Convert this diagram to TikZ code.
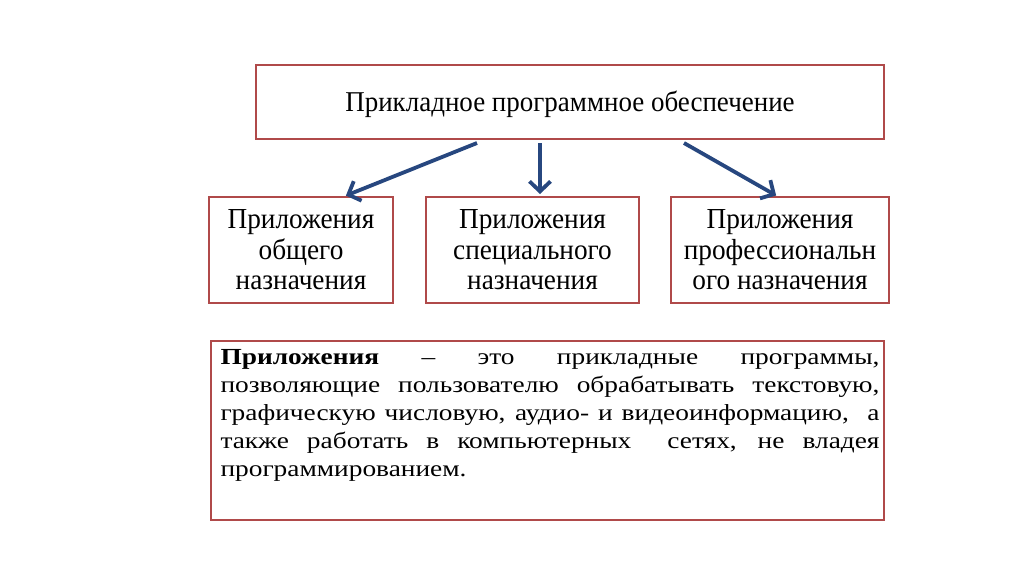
\documentclass[tikz,border=0pt]{standalone}
\usepackage{fontspec}
\setmainfont{Liberation Serif}
\newfontfamily\narrowserif[FakeStretch=0.94]{Liberation Serif}
\newfontfamily\wideserif[FakeStretch=1.19]{Liberation Serif}
\usetikzlibrary{arrows.meta}
\definecolor{boxred}{HTML}{B04A4A}
\definecolor{arrowblue}{HTML}{27477F}
\tikzset{
  frame/.style={draw=boxred, line width=1.4pt, rectangle, inner sep=0pt},
  sub/.style={frame, align=center, font=\narrowserif\fontsize{29}{30.5}\selectfont},
  link/.style={draw=arrowblue, line width=3.8pt, -{Straight Barb[length=10pt, width=21pt, line width=3.8pt]}, shorten >=1pt}
}
\begin{document}
\begin{tikzpicture}[x=1pt,y=-1pt]
\useasboundingbox[fill=white] (0,0) rectangle (1024,574);
\node[frame, minimum width=628pt, minimum height=74pt] (top) at (570,102) {};
\node[inner sep=0pt, font=\narrowserif\fontsize{28.7}{30}\selectfont] (toptext) at (570,104.5) {Прикладное программное обеспечение};
\node[sub, minimum width=184pt, minimum height=106pt] (a) at (301,250) {Приложения\\общего\\назначения};
\node[sub, minimum width=213pt, minimum height=106pt] (b) at (532.5,250) {Приложения\\специального\\назначения};
\node[sub, minimum width=218pt, minimum height=106pt] (c) at (780,250) {Приложения\\профессиональн\\ого назначения};
\coordinate (t1) at (477,143);
\coordinate (t2) at (540,143);
\coordinate (t3) at (684,143);
\coordinate (h1) at (345,196);
\coordinate (h2) at (540,195);
\coordinate (h3) at (777,196);
\draw[link] (t1) -- (h1);
\draw[link] (t2) -- (h2);
\draw[link] (t3) -- (h3);
\node[frame, minimum width=673pt, minimum height=179pt] (d) at (547.5,430.5) {};
\node[anchor=north west, inner sep=0pt, text width=659pt, align=justify, font=\wideserif\fontsize{23}{28}\selectfont] (dt) at ([shift={(10,8.5)}]d.north west)
{\tolerance=10000 \textbf{Приложения} – это прикладные программы,\linebreak позволяющие пользователю обрабатывать текстовую,\linebreak графическую числовую, аудио- и видеоинформацию,~ а\linebreak также работать в компьютерных~ сетях, не владея\linebreak программированием.};
\end{tikzpicture}
\end{document}
